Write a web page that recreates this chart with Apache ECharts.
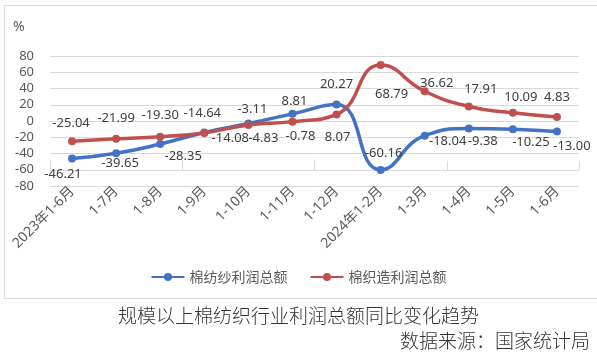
<!DOCTYPE html>
<html>
<head>
<meta charset="utf-8">
<script src="https://cdn.jsdelivr.net/npm/echarts@6/dist/echarts.min.js"></script>
<style>
html,body{margin:0;padding:0;background:#fff;}
#c{width:597px;height:355px;}
</style>
</head>
<body>
<div id="c"></div>
<script>
const categories = ['2023年1-6月','1-7月','1-8月','1-9月','1-10月','1-11月','1-12月','2024年1-2月','1-3月','1-4月','1-5月','1-6月'];
const yarnProfit = [-46.21,-39.65,-28.35,-14.08,-3.11,8.81,20.27,-60.16,-18.04,-9.38,-10.25,-13.00];
const weavingProfit = [-25.04,-21.99,-19.30,-14.64,-4.83,-0.78,8.07,68.79,36.62,17.91,10.09,4.83];
const seriesNames = ['棉纺纱利润总额','棉织造利润总额'];
const yMin = -80, yMax = 80, yStep = 20;
const chartTitle = '规模以上棉纺织行业利润总额同比变化趋势';
const sourceText = '数据来源：国家统计局';
const unitText = '%';

// label placement (style only)
const yarnLabelOffsets = [[-9,16],[4,10],[23,12],[26,6],[4,-14],[2,-13],[0,-20],[3,-17],[23,6],[14,13],[18,13],[15,15]];
const weavingLabelOffsets = [[-1,-18],[0,-21],[0,-21],[-2,-20],[15,13],[8,15],[1,23],[11,29],[12,-8],[12,-17],[8,-16],[0,-20]];

const labelFont = "'Noto Sans','Noto Sans CJK SC',sans-serif";
function buildData(vals, offsets){
  return vals.map((v,i)=>({value:v,label:{offset:offsets[i]}}));
}

const chart = echarts.init(document.getElementById('c'), null, {renderer:'canvas'});
const blue = '#4472C4', red = '#C0504D';
function seriesOf(name, vals, offsets, color){
  return {
    name, type:'line', smooth:0.5,
    data: buildData(vals, offsets),
    symbol:'circle', symbolSize:8,
    lineStyle:{width:3.5,color},
    itemStyle:{color},
    label:{show:true, position:'inside', color:'#404040', fontSize:13, fontFamily:labelFont,
      formatter:p=>Number(p.value).toFixed(2)},
    emphasis:{disabled:true},
    z:3
  };
}
chart.setOption({
  animation:false,
  backgroundColor:'#fff',
  grid:{left:50,right:18,top:56,bottom:169,containLabel:false},
  legend:{
    data:seriesNames, left:'center', top:265, itemWidth:33, itemHeight:10, itemGap:22,
    textStyle:{color:'#595959',fontSize:14,fontFamily:"'Noto Sans CJK SC',sans-serif"}
  },
  xAxis:[{
    type:'category', data:categories, boundaryGap:true,
    axisLine:{show:false}, axisTick:{show:false},
    axisLabel:{rotate:45, margin:3, color:'#595959', fontSize:14, interval:0,
      fontFamily:"'Noto Sans','Noto Sans CJK SC',sans-serif"}
  },{
    type:'category', data:categories, boundaryGap:true, position:'bottom', offset:-16.25,
    axisLine:{show:true,lineStyle:{color:'#d9d9d9',width:1}},
    axisTick:{show:true,inside:true,length:9,lineStyle:{color:'#d9d9d9'}},
    axisLabel:{show:false}
  }],
  yAxis:{
    type:'value', min:yMin, max:yMax, interval:yStep,
    axisLine:{show:false}, axisTick:{show:false},
    axisLabel:{color:'#595959',fontSize:13,margin:16,fontFamily:labelFont},
    splitLine:{lineStyle:{color:'#d9d9d9',width:1}}
  },
  series:[
    seriesOf(seriesNames[0], yarnProfit, yarnLabelOffsets, blue),
    seriesOf(seriesNames[1], weavingProfit, weavingLabelOffsets, red)
  ],
  graphic:[
    {type:'rect', left:2, top:3, shape:{width:593,height:293}, style:{fill:null,stroke:'#d9d9d9',lineWidth:1}, silent:true, z:-1},
    {type:'text', left:13, top:20, style:{text:unitText, fill:'#595959', font:"14px 'Noto Sans',sans-serif"}},
    {type:'text', left:'center', top:306, style:{text:chartTitle, fill:'#333333', font:"300 19px 'Noto Sans CJK SC',sans-serif"}},
    {type:'text', right:7, top:331, style:{text:sourceText, fill:'#333333', font:"300 19px 'Noto Sans CJK SC',sans-serif"}}
  ]
});
</script>
</body>
</html>
